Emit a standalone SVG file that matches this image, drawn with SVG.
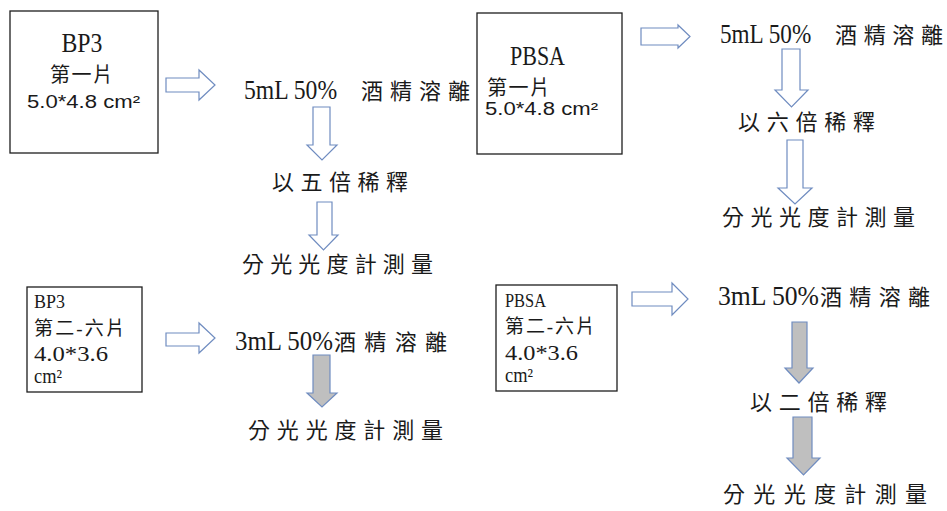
<svg xmlns="http://www.w3.org/2000/svg" width="947" height="511" viewBox="0 0 947 511">
<style>
.box{fill:#fff;stroke:#1e1e1e;stroke-width:1.3}
.t{font-family:"Liberation Serif","Noto Sans CJK TC",serif;fill:#1a1a1a}
.s{font-family:"Liberation Sans","Noto Sans CJK TC",sans-serif;fill:#1a1a1a}
.m{font-size:22px}
.b{font-size:19px}
.lat{font-size:27px}
.hol{fill:#fff;stroke:#6f8cc0;stroke-width:1.2;stroke-linejoin:miter}
.gry{fill:#bfbfbf;stroke:#6f8cc0;stroke-width:1.2}
</style>
<rect width="947" height="511" fill="#fff"/>

<g id="node-bp3-1">
<rect class="box" x="10" y="11" width="148" height="142"/>
<text class="t" x="82" y="52" font-size="27" text-anchor="middle" textLength="41" lengthAdjust="spacingAndGlyphs">BP3</text>
<text class="t" x="50" y="82" font-size="20" textLength="63" lengthAdjust="spacing">第一片</text>
<text class="s" x="27" y="108" font-size="18" textLength="113" lengthAdjust="spacingAndGlyphs">5.0*4.8 cm²</text>
</g>

<g id="node-pbsa-1">
<rect class="box" x="477" y="13" width="145" height="141"/>
<text class="t" x="510" y="65" font-size="27" textLength="55" lengthAdjust="spacingAndGlyphs">PBSA</text>
<text class="t" x="487" y="95" font-size="20" textLength="63" lengthAdjust="spacing">第一片</text>
<text class="s" x="485" y="115" font-size="18" textLength="113" lengthAdjust="spacingAndGlyphs">5.0*4.8 cm²</text>
</g>

<g id="node-bp3-2">
<rect class="box" x="27" y="287" width="115" height="105"/>
<text class="t b" x="34" y="308" textLength="31" lengthAdjust="spacingAndGlyphs">BP3</text>
<text class="t b" x="34" y="335" textLength="91" lengthAdjust="spacing">第二-六片</text>
<text class="t" x="34" y="361" font-size="21" textLength="74" lengthAdjust="spacingAndGlyphs">4.0*3.6</text>
<text class="t" x="34" y="383" font-size="20" textLength="28" lengthAdjust="spacingAndGlyphs">cm²</text>
</g>

<g id="node-pbsa-2">
<rect class="box" x="496" y="285" width="121" height="106"/>
<text class="t b" x="505" y="307" textLength="41" lengthAdjust="spacingAndGlyphs">PBSA</text>
<text class="t b" x="505" y="333" textLength="90" lengthAdjust="spacing">第二-六片</text>
<text class="t" x="505" y="360" font-size="21" textLength="73" lengthAdjust="spacingAndGlyphs">4.0*3.6</text>
<text class="t" x="505" y="382" font-size="20" textLength="28" lengthAdjust="spacingAndGlyphs">cm²</text>
</g>

<g id="node-tl-elute"><text class="t m" y="99"><tspan class="lat" x="244" textLength="99" lengthAdjust="spacingAndGlyphs">5mL 50% </tspan><tspan x="361" textLength="109" lengthAdjust="spacing">酒精溶離</tspan></text></g>
<g id="node-tl-dilute"><text class="t m" x="272" y="190" textLength="136" lengthAdjust="spacing">以五倍稀釋</text></g>
<g id="node-tl-measure"><text class="t m" x="242" y="272" textLength="191" lengthAdjust="spacing">分光光度計測量</text></g>

<g id="node-tr-elute"><text class="t m" y="43"><tspan class="lat" x="720" textLength="97" lengthAdjust="spacingAndGlyphs">5mL 50% </tspan><tspan x="835" textLength="108" lengthAdjust="spacing">酒精溶離</tspan></text></g>
<g id="node-tr-dilute"><text class="t m" x="738" y="130" textLength="137" lengthAdjust="spacing">以六倍稀釋</text></g>
<g id="node-tr-measure"><text class="t m" x="722" y="225" textLength="193" lengthAdjust="spacing">分光光度計測量</text></g>

<g id="node-bl-elute"><text class="t m" y="350"><tspan class="lat" x="235" textLength="98" lengthAdjust="spacingAndGlyphs">3mL 50%</tspan><tspan x="334" textLength="113" lengthAdjust="spacing">酒精溶離</tspan></text></g>
<g id="node-bl-measure"><text class="t m" x="248" y="438" textLength="195" lengthAdjust="spacing">分光光度計測量</text></g>

<g id="node-br-elute"><text class="t m" y="305"><tspan class="lat" x="718" textLength="101" lengthAdjust="spacingAndGlyphs">3mL 50%</tspan><tspan x="820" textLength="110" lengthAdjust="spacing">酒精溶離</tspan></text></g>
<g id="node-br-dilute"><text class="t m" x="750" y="410" textLength="137" lengthAdjust="spacing">以二倍稀釋</text></g>
<g id="node-br-measure"><text class="t m" x="723" y="502" textLength="204" lengthAdjust="spacing">分光光度計測量</text></g>

<g id="connectors">
<polygon class="hol" points="166,78 199,78 199,70 215,85 199,100 199,92 166,92"/>
<polygon class="hol" points="641,28 678,28 678,25 690,36.5 678,48 678,45 641,45"/>
<polygon class="hol" points="166,333 199,333 199,323 215,338 199,353 199,346 166,346"/>
<polygon class="hol" points="632,292 672,292 672,283 688,299 672,315 672,306 632,306"/>

<polygon class="hol" points="313,107 330,107 330,145 337,145 322,160 307,145 313,145"/>
<polygon class="hol" points="317,202 332,202 332,235 338,235 323.5,250 309,235 317,235"/>
<polygon class="hol" points="782,49 800,49 800,90 808,90 791.5,107 775,90 782,90"/>
<polygon class="hol" points="787,140 803,140 803,188 812,188 795,204 778,188 787,188"/>

<polygon class="gry" points="313,355 330,355 330,393 337,393 322,407 307,393 313,393"/>
<polygon class="gry" points="792,322 807,322 807,368 813,368 799,383 785,368 792,368"/>
<polygon class="gry" points="793,417 812,417 812,458 820,458 803.5,475 787,458 793,458"/>
</g>
</svg>
